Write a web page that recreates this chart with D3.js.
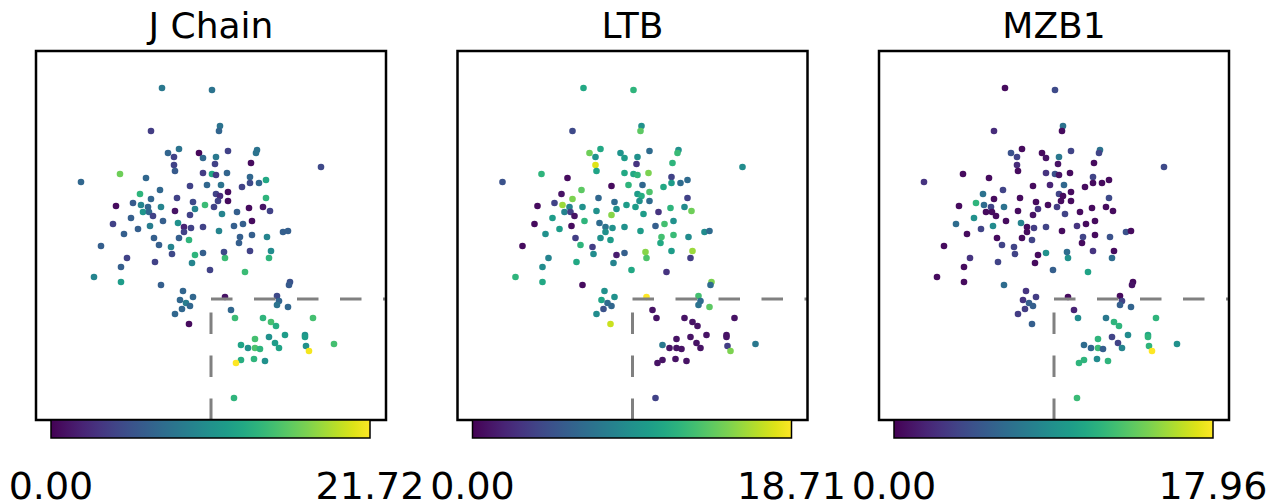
<!DOCTYPE html>
<html><head><meta charset="utf-8">
<script src="https://cdn.jsdelivr.net/npm/d3@7/dist/d3.min.js"></script>
<style>body{margin:0;background:#fff}svg{display:block}</style>
</head><body>
<script>
// embedding coordinates (panel-relative units)
const umapX = [162,212,151,168,179,199,203,174,174,175,203,207,120,81,146,190,160,140,151,177,
220,219,228,257,256,216,215,251,212,216,227,250,266,321,221,242,250,259,216,220,228,266,
116,133,141,148,161,143,149,153,193,195,205,214,218,228,175,190,178,184,191,184,203,222,237,249,263,270,
252,243,234,219,113,131,150,163,138,124,154,179,189,159,171,172,101,127,155,121,94,121,161,195,203,192,210,225,224,245,250,239,240,252,267,271,269,283,288,
183,180,186,193,190,182,175,189,225,231,235,263,271,276,313,290,289,277,279,277,288,255,269,275,279,285,241,248,255,260,241,236,254,265,305,305,306,309,334,234];
const umapY = [88,90,131,153,149,153,158,157,165,171,173,185,174,182,178,186,190,194,199,198,
126,131,151,150,153,157,164,163,174,175,173,177,180,167,185,187,183,183,194,196,192,198,
206,203,205,207,207,212,212,216,202,209,205,207,201,201,211,215,223,227,228,232,227,214,212,208,207,211,
221,224,226,231,224,218,226,221,229,234,238,238,240,245,247,254,246,258,262,267,277,282,285,255,253,263,270,258,252,272,251,243,237,235,237,251,258,232,231,
291,300,303,297,306,309,314,324,297,310,318,318,322,326,318,282,285,296,301,305,307,339,337,343,348,335,345,348,348,349,360,363,359,361,335,337,346,351,344,398];

const jchain = [8.7,8.3,3.9,7.0,8.3,0.4,7.2,4.3,4.3,6.1,3.9,7.2,16.9,7.2,7.2,4.3,7.2,14.1,7.0,4.3,
8.3,7.0,4.3,8.3,8.3,8.7,4.3,0.65,13.0,3.9,7.0,7.2,13.0,4.8,8.3,4.3,4.8,7.2,4.3,2.6,0.65,14.1,
0.65,6.1,9.8,7.0,9.8,11.3,7.2,4.3,4.8,9.8,14.8,4.3,4.3,0.65,1.1,4.3,10.9,2.2,4.3,4.3,4.3,9.8,6.5,0.65,1.1,4.3,
0.65,6.5,6.5,9.8,4.3,6.5,9.1,6.5,6.5,6.5,6.5,6.5,14.1,6.5,9.8,4.8,6.5,4.3,4.3,6.5,9.8,11.9,6.5,14.1,6.5,9.8,4.3,14.8,4.8,14.8,4.3,6.5,6.5,6.5,9.8,10.4,14.1,6.5,6.5,
7.0,7.2,9.1,7.2,7.2,7.2,7.2,0.65,1.1,7.2,14.8,14.1,15.2,13.5,15.2,5.4,6.1,4.8,7.0,8.3,7.2,15.2,10.9,11.9,12.6,11.9,12.6,10.9,15.6,14.1,13.5,21.72,14.1,10.9,10.9,11.9,10.9,21.3,15.2,14.1];
const ltb = [11.2,12.2,4.1,14.6,11.2,9.7,10.3,9.7,17.8,10.9,11.2,12.2,12.2,4.7,0.56,0.56,14.0,0.94,15.0,6.2,
9.4,14.0,6.5,9.4,12.7,9.4,2.8,12.2,11.2,12.2,15.0,3.7,6.5,9.0,6.2,11.2,10.3,6.5,10.3,11.6,13.5,3.7,
0.56,3.7,15.9,8.4,9.4,8.4,3.4,0.94,6.5,9.4,10.3,10.3,9.4,6.5,9.4,15.3,6.5,7.1,9.4,9.4,9.4,10.3,2.8,12.2,9.0,14.6,
9.4,13.1,5.6,10.3,0.56,10.3,0.56,12.2,10.3,9.4,3.4,9.4,10.3,12.2,3.4,9.0,0.56,8.4,11.2,9.0,12.2,11.2,0.56,1.5,5.6,8.4,11.2,13.5,15.3,2.8,10.3,11.2,13.1,12.7,9.0,15.9,3.4,9.0,6.5,
9.4,10.9,6.5,9.4,6.2,4.7,9.0,17.2,18.71,0.94,0.94,0.94,0.94,0.94,0.94,15.0,6.5,13.1,6.5,7.1,14.0,0.94,0.94,0.94,0.94,0.94,7.5,0.94,0.94,0.94,0.94,0.94,0.94,0.94,0.94,0.94,3.4,15.0,7.5,3.7];
const mzb1 = [0.54,4.0,2.2,4.5,0.54,0.54,0.9,3.6,2.2,0.54,2.7,1.8,0.54,2.7,0.54,0.54,3.6,6.8,0.54,0.54,
6.8,0.54,3.6,6.8,3.6,7.2,0.9,0.54,4.5,0.9,0.54,3.6,0.54,4.0,5.9,0.54,0.54,0.54,3.6,0.54,0.54,4.0,
0.54,11.7,6.3,3.6,6.8,0.54,0.54,0.54,0.54,2.7,0.54,3.2,0.54,0.54,0.54,0.9,8.1,0.54,3.2,0.54,3.6,3.6,0.54,0.54,0.54,0.54,
0.54,0.54,2.7,0.54,6.3,9.0,8.6,0.54,3.6,0.54,0.54,0.54,3.6,3.6,3.6,3.6,0.54,2.7,3.6,0.54,0.54,0.54,6.3,0.54,9.0,0.54,5.4,9.0,6.3,10.4,2.7,0.54,3.6,0.54,4.5,0.54,6.3,4.5,0.54,
2.7,2.7,5.4,3.2,5.4,3.2,3.2,5.4,0.54,1.8,8.6,7.2,11.7,11.7,11.7,0.54,0.9,0.54,3.6,5.4,5.7,11.7,3.6,3.6,8.1,8.6,6.3,5.7,12.2,5.4,11.7,11.7,8.6,11.7,10.8,11.7,11.7,17.96,9.0,12.2];

const genes = ["J Chain","LTB","MZB1"];
const geneMax = [21.72, 18.71, 17.96];
const tickLabels = [["0.00","21.72"],["0.00","18.71"],["0.00","17.96"]];
const gateX = 211, gateY = 299;
const xExtent = [36, 386], yExtent = [51, 420];

(function(){
const values = [jchain, ltb, mzb1];
const W = 1273, H = 503;
const svg = d3.select("body").append("svg").attr("width", W).attr("height", H);
const defs = svg.append("defs");
const grad = defs.append("linearGradient").attr("id","vir").attr("x1","0%").attr("x2","100%");
d3.range(0, 1.0001, 0.05).forEach(t => grad.append("stop").attr("offset", (t*100)+"%").attr("stop-color", d3.interpolateViridis(t)));

const pw = 350, ph = 369, topY = 51, step = 421.5, left0 = 36;
const points = umapX.map((x,i)=>({x, y: umapY[i], i}));

genes.forEach((g, k) => {
  const left = left0 + k*step;
  const xs = d3.scaleLinear().domain(xExtent).range([left, left+pw]);
  const ys = d3.scaleLinear().domain(yExtent).range([topY, topY+ph]);
  const color = d3.scaleSequential(d3.interpolateViridis).domain([0, geneMax[k]]);
  const gp = svg.append("g");
  gp.append("text").attr("x", left+pw/2).attr("y", 38).attr("text-anchor","middle")
    .attr("font-family","DejaVu Sans").attr("font-size", 36).text(g);
  gp.selectAll("circle").data(points).join("circle")
    .attr("cx", d=>xs(d.x)).attr("cy", d=>ys(d.y)).attr("r", 3.3)
    .attr("fill", d=>color(values[k][d.i]));
  gp.append("line").attr("x1", xs(gateX)).attr("x2", xs(xExtent[1])).attr("y1", ys(gateY)).attr("y2", ys(gateY))
    .attr("stroke","#808080").attr("stroke-width",3).attr("stroke-dasharray","21.5,21.5");
  gp.append("line").attr("x1", xs(gateX)).attr("x2", xs(gateX)).attr("y1", ys(yExtent[1])).attr("y2", ys(gateY))
    .attr("stroke","#808080").attr("stroke-width",3).attr("stroke-dasharray","21.5,21.5");
  gp.append("rect").attr("x", left).attr("y", topY).attr("width", pw).attr("height", ph)
    .attr("fill","none").attr("stroke","#000").attr("stroke-width",2.5);
  const cbL = left+15, cbW = 319, cbT = topY+ph, cbH = 18;
  const cs = d3.scaleLinear().domain([0, geneMax[k]]).range([cbL, cbL+cbW]);
  gp.append("rect").attr("x", cbL).attr("y", cbT).attr("width", cbW).attr("height", cbH)
    .attr("fill","url(#vir)").attr("stroke","#000").attr("stroke-width",1.5);
  const tv = [0, geneMax[k]];
  gp.selectAll("text.tick").data(tv).join("text").attr("class","tick")
    .attr("x", d=>cs(d)).attr("y", 499).attr("text-anchor","middle")
    .attr("font-family","DejaVu Sans").attr("font-size", 38)
    .text((d,j)=>tickLabels[k][j]);
});
})();
</script>
</body></html>
